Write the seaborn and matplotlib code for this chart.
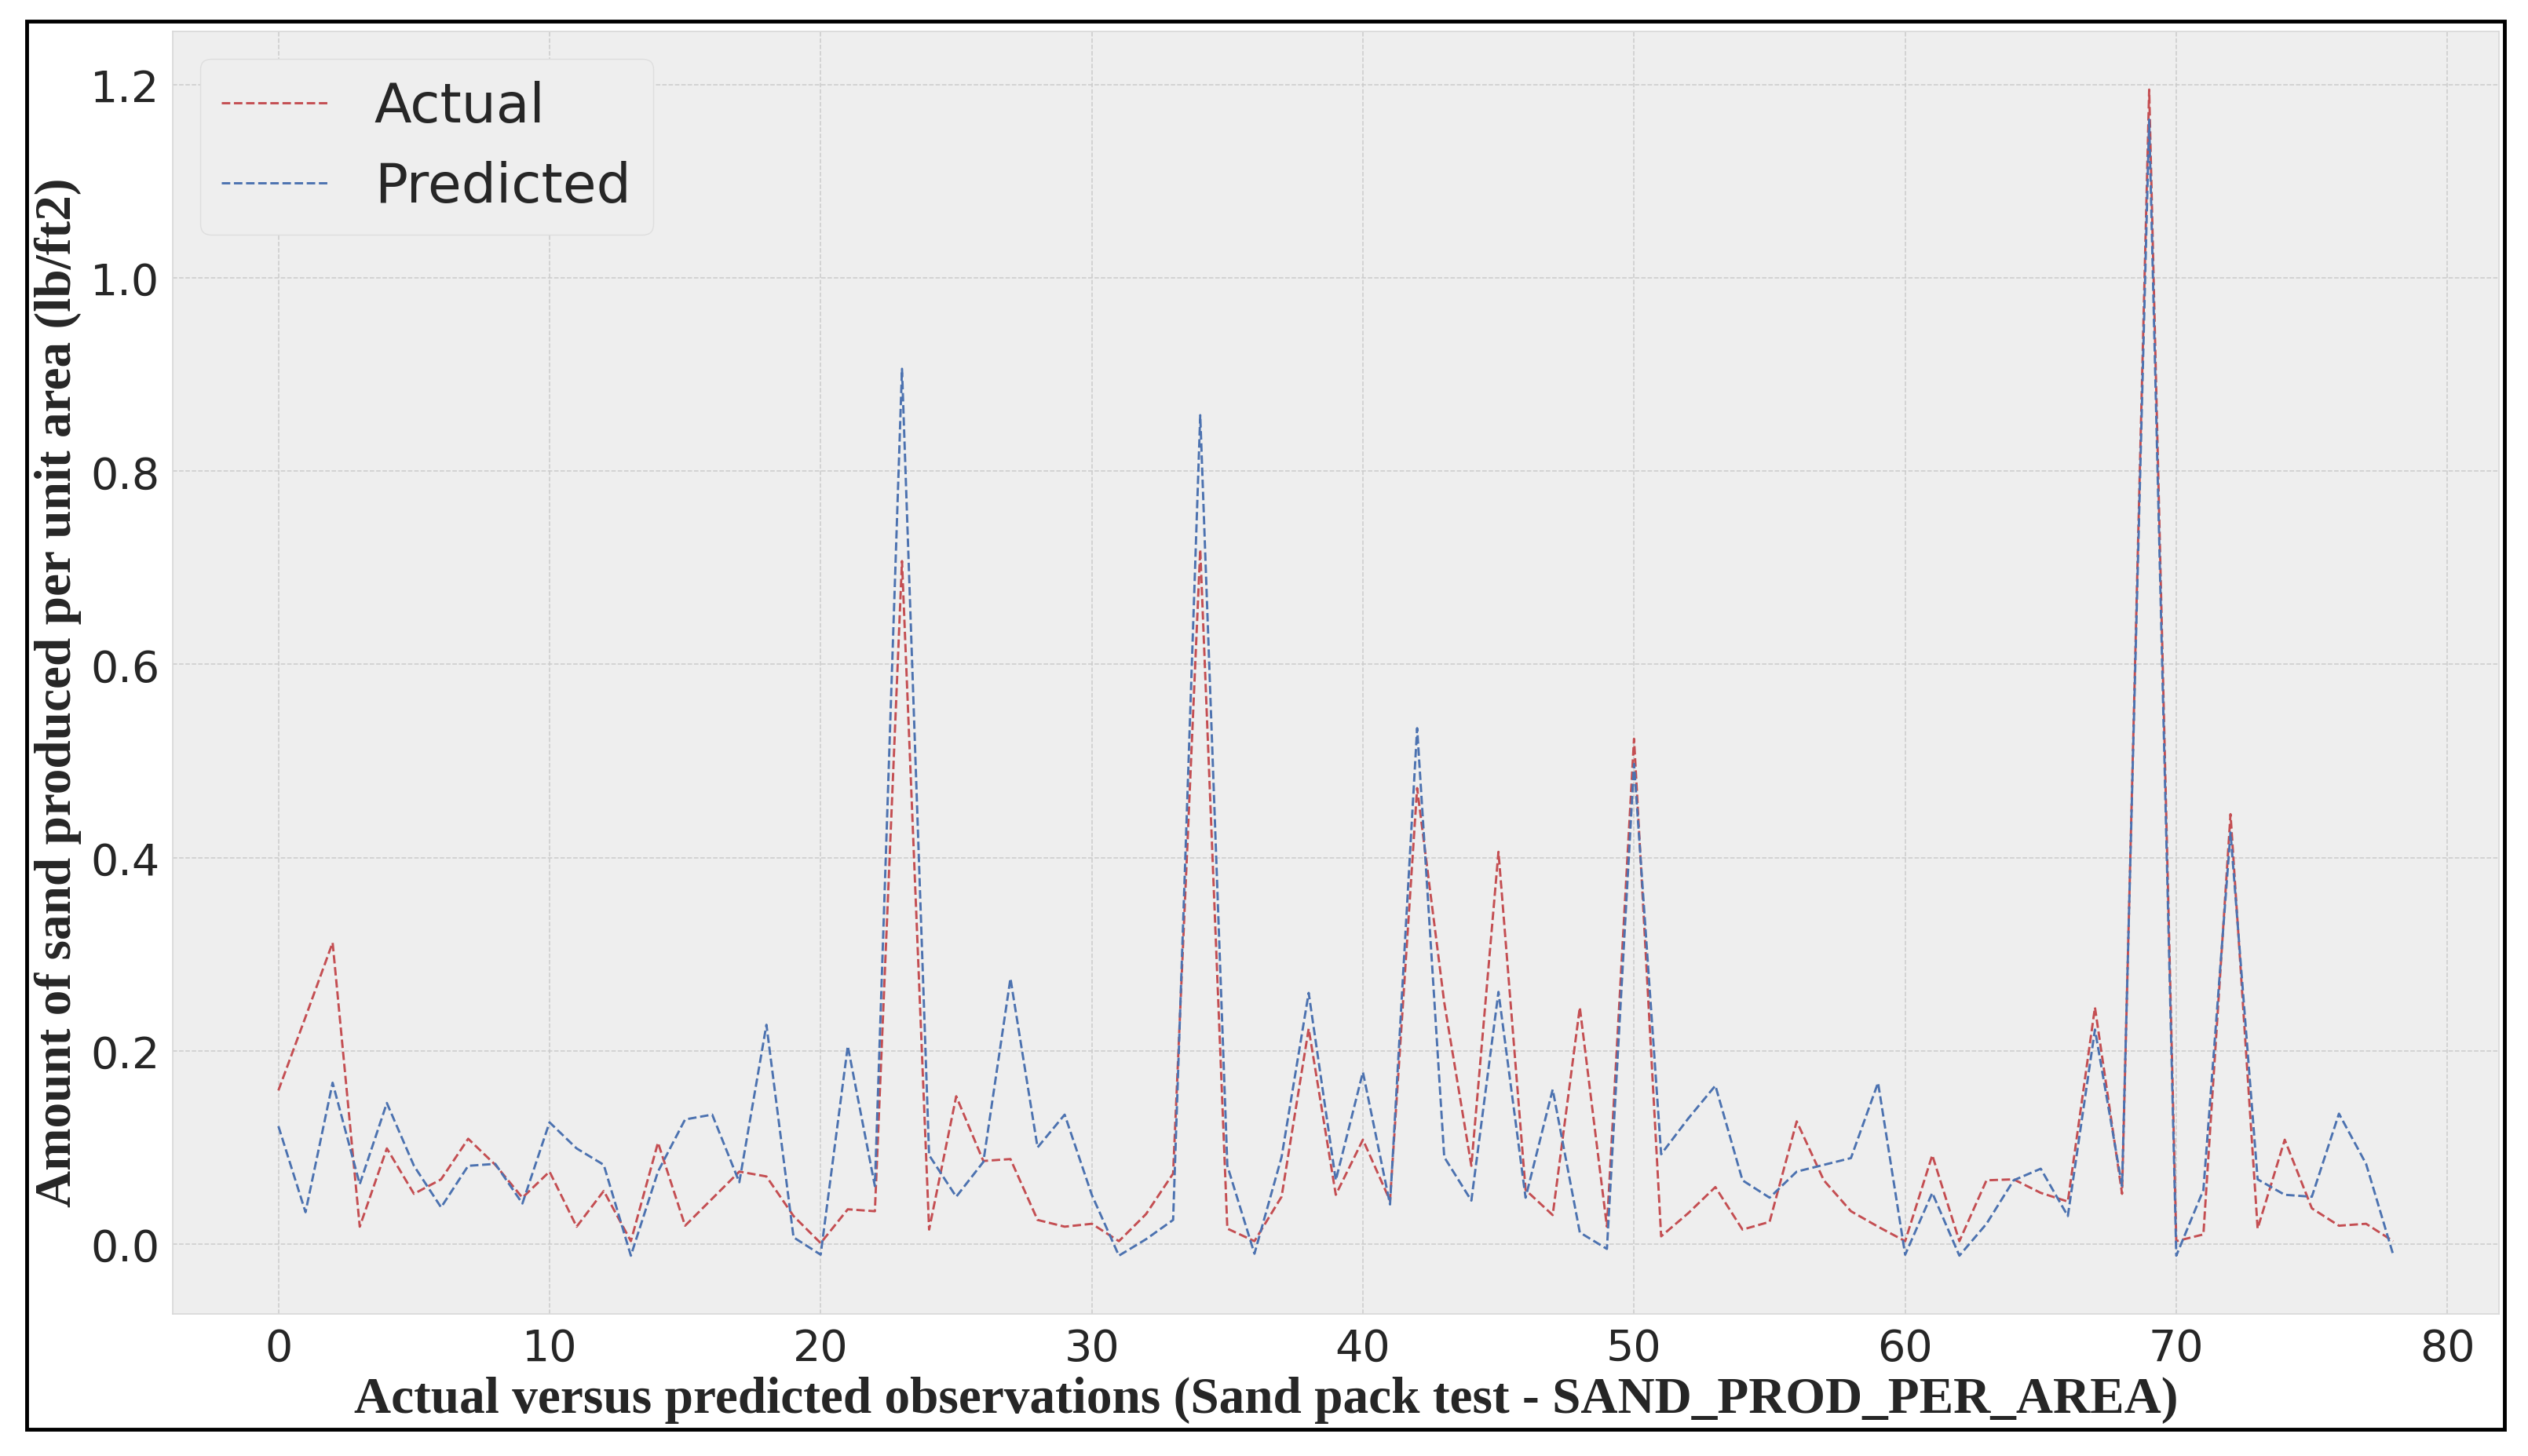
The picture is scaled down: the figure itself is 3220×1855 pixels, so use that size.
import numpy as np
import pandas as pd
import matplotlib
matplotlib.use("Agg")
import matplotlib.pyplot as plt
from matplotlib.patches import Rectangle
import seaborn as sns

# Valores (observaciones 0..78)
actual = [0.159, 0.235, 0.312, 0.018, 0.099, 0.052, 0.067, 0.109, 0.082, 0.048,
          0.075, 0.018, 0.055, 0.003, 0.105, 0.019, 0.047, 0.075, 0.070, 0.029,
          0.001, 0.036, 0.034, 0.707, 0.015, 0.153, 0.086, 0.088, 0.025, 0.018,
          0.021, 0.003, 0.031, 0.073, 0.719, 0.016, 0.003, 0.049, 0.223, 0.051,
          0.108, 0.045, 0.472, 0.250, 0.081, 0.406, 0.056, 0.030, 0.245, 0.018,
          0.523, 0.008, 0.032, 0.059, 0.015, 0.023, 0.127, 0.066, 0.034, 0.018,
          0.003, 0.092, 0.003, 0.066, 0.067, 0.053, 0.044, 0.245, 0.052, 1.195,
          0.003, 0.010, 0.445, 0.016, 0.108, 0.037, 0.019, 0.021, 0.003]

predicted = [0.122, 0.033, 0.167, 0.062, 0.146, 0.081, 0.038, 0.081, 0.083, 0.042,
             0.126, 0.099, 0.082, -0.012, 0.075, 0.129, 0.134, 0.064, 0.227, 0.007,
             -0.011, 0.205, 0.060, 0.906, 0.092, 0.049, 0.085, 0.275, 0.100, 0.134,
             0.051, -0.012, 0.005, 0.025, 0.858, 0.081, -0.010, 0.090, 0.260, 0.066,
             0.178, 0.041, 0.534, 0.090, 0.045, 0.261, 0.048, 0.160, 0.012, -0.005,
             0.497, 0.093, 0.130, 0.164, 0.066, 0.048, 0.075, 0.082, 0.089, 0.167,
             -0.011, 0.053, -0.012, 0.021, 0.066, 0.078, 0.029, 0.222, 0.060, 1.164,
             -0.012, 0.056, 0.426, 0.067, 0.051, 0.049, 0.135, 0.083, -0.011]

obs = np.arange(len(actual))
df = pd.DataFrame({'obs': obs, 'Actual': actual, 'Predicted': predicted})

sns.set_style("darkgrid", {
    'axes.facecolor': '#eeeeee',
    'axes.edgecolor': '#d8d8d8',
    'grid.color': '#cbcbcb',
    'grid.linestyle': '--',
})
plt.rcParams['font.family'] = ['DejaVu Sans']

fig = plt.figure(figsize=(32.2, 18.56), dpi=100)
ax = fig.add_axes([0.0683, 0.0975, 0.9202, 0.8805])

sns.lineplot(data=df, x='obs', y='Actual', ax=ax, color='#c44e52',
             linestyle='--', linewidth=2.1, label='Actual')
sns.lineplot(data=df, x='obs', y='Predicted', ax=ax, color='#4c72b0',
             linestyle='--', linewidth=2.1, label='Predicted')

ax.set_xticks(range(0, 81, 10))
ax.set_yticks([0.0, 0.2, 0.4, 0.6, 0.8, 1.0, 1.2])
ax.set_yticklabels(['0.0', '0.2', '0.4', '0.6', '0.8', '1.0', '1.2'])
ax.tick_params(axis='both', labelsize=40, length=0, pad=12)
ax.grid(True, linewidth=1.1)
for s in ax.spines.values():
    s.set_linewidth(1.2)

ax.set_xlabel('Actual versus predicted observations (Sand pack test - SAND_PROD_PER_AREA)',
              family=['Liberation Serif'], fontweight='bold', fontsize=47, labelpad=6)
ax.set_ylabel('Amount of sand produced per unit area (lb/ft2)',
              family=['Liberation Serif'], fontweight='bold', fontsize=47, labelpad=8)
ax.xaxis.label.set_x(0.47)
ax.yaxis.label.set_y(0.485)

leg = ax.legend(loc='upper left', fontsize=50, fancybox=True, frameon=True)
leg.get_frame().set_facecolor('#eeeeee')
leg.get_frame().set_edgecolor('#dedede')
leg.get_frame().set_alpha(1)

# marco negro alrededor de la figura
fig.patches.append(Rectangle((0.0106, 0.0183), 0.980, 0.9666, transform=fig.transFigure,
                             fill=False, edgecolor='black', linewidth=3.5))

fig.savefig('out.png', dpi=100)
